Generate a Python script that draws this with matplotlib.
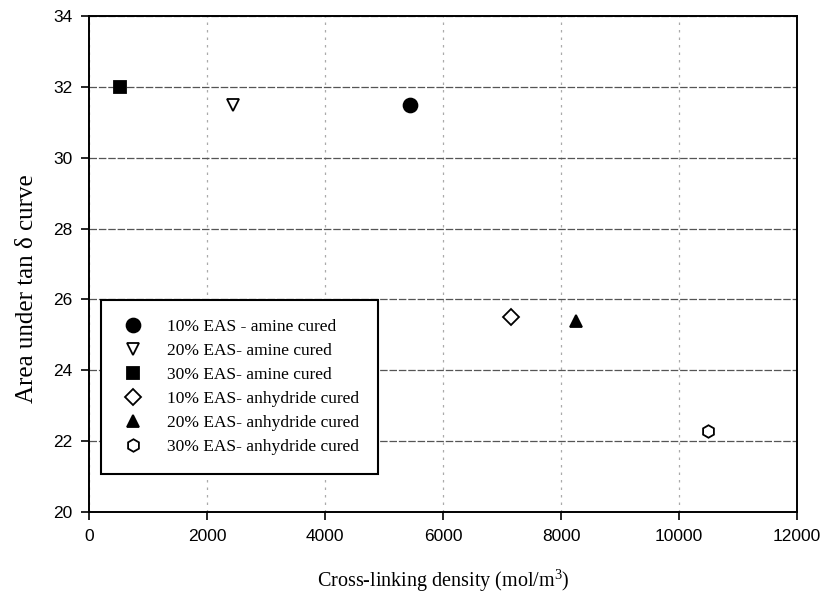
import matplotlib
matplotlib.use("Agg")
import matplotlib.pyplot as plt

plt.rcParams["mathtext.fontset"] = "custom"
plt.rcParams["mathtext.rm"] = "Liberation Serif"
plt.rcParams["mathtext.default"] = "regular"

# Data
labels = ["10% EAS - amine cured", "20% EAS- amine cured", "30% EAS- amine cured",
          "10% EAS- anhydride cured", "20% EAS- anhydride cured", "30% EAS- anhydride cured"]
density = [5440, 2440, 520, 7150, 8250, 10490]
area = [31.5, 31.5, 32.0, 25.5, 25.4, 22.3]

markers = ["o", "v", "s", "D", "^", "h"]
filled = [True, False, True, False, True, False]
sizes = [10, 9, 9, 8, 9, 9]

x_ticks = [0, 2000, 4000, 6000, 8000, 10000, 12000]
y_ticks = [20, 22, 24, 26, 28, 30, 32, 34]

fig = plt.figure(figsize=(8.26, 6.01), dpi=100)
ax = fig.add_axes([0.1077, 0.148, 0.8573, 0.8254])

for i in range(len(labels)):
    ax.plot(density[i], area[i], linestyle="none", marker=markers[i], markersize=sizes[i],
            markerfacecolor="black" if filled[i] else "white",
            markeredgecolor="black", markeredgewidth=1.3, label=labels[i], zorder=3)

ax.set_xlim(0, 12000)
ax.set_ylim(20, 34)
ax.set_xticks(x_ticks)
ax.set_yticks(y_ticks)
ax.tick_params(direction="out", length=6, width=1.2, labelsize=12.5, pad=6)
for lbl in ax.get_xticklabels() + ax.get_yticklabels():
    lbl.set_fontfamily("Liberation Sans")

ax.grid(axis="y", color="#555555", linestyle=(0, (6, 1.5)), linewidth=0.9)
ax.grid(axis="x", color="#aaaaaa", linestyle=(0, (2, 4)), linewidth=0.9)
for s in ax.spines.values():
    s.set_linewidth(1.4)

ax.set_xlabel("Cross-linking density (mol/m$^{3}$)", fontfamily="Liberation Serif", fontsize=14.5, labelpad=17)
ax.set_ylabel("Area under tan δ curve", fontfamily="Liberation Serif", fontsize=18)
ax.yaxis.set_label_coords(-0.072, 0.45)

leg = ax.legend(loc="upper left", bbox_to_anchor=(0.017, 0.427), borderaxespad=0,
                prop={"family": "Liberation Serif", "size": 12.5}, fancybox=False,
                edgecolor="black", framealpha=1, handletextpad=1.2, labelspacing=0.45,
                borderpad=1.1, handlelength=1.5)
leg.get_frame().set_linewidth(1.5)

fig.savefig("out.png", dpi=100)
